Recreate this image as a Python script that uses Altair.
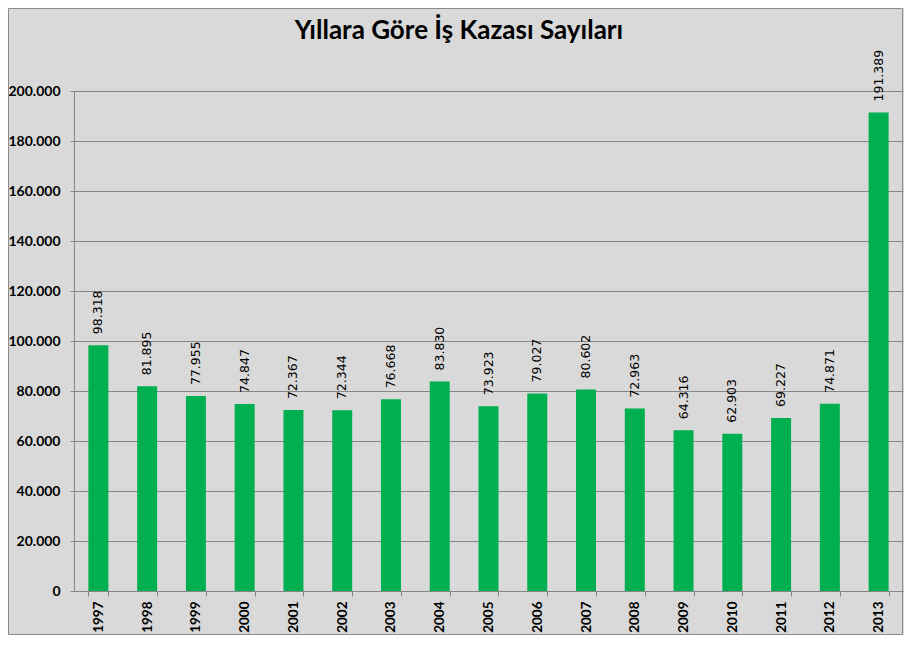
import altair as alt
import pandas as pd

years = ["1997", "1998", "1999", "2000", "2001", "2002", "2003", "2004", "2005",
         "2006", "2007", "2008", "2009", "2010", "2011", "2012", "2013"]
accidents = [98318, 81895, 77955, 74847, 72367, 72344, 76668, 83830, 73923,
             79027, 80602, 72963, 64316, 62903, 69227, 74871, 191389]
y_ticks = [0, 20000, 40000, 60000, 80000, 100000, 120000, 140000, 160000, 180000, 200000]
title_text = "Yıllara Göre İş Kazası Sayıları"

df = pd.DataFrame({
    "year": years,
    "value": accidents,
    "label": [f"{v:,}".replace(",", ".") for v in accidents],
})

FONT = "Lato"

x_enc = alt.X("year:N", sort=years, title=None,
              scale=alt.Scale(paddingInner=0.59, paddingOuter=0.295),
              axis=alt.Axis(labelAngle=-90, labelAlign="right", labelBaseline="middle",
                            labelFontWeight="bold", labelFontSize=13.5, labelColor="#000000",
                            labelFont=FONT, labelPadding=5, tickBand="extent",
                            tickSize=5, tickColor="#868686", domainColor="#868686",
                            grid=False))
y_enc = alt.Y("value:Q", title=None,
              scale=alt.Scale(domain=[0, 200000], nice=False),
              axis=alt.Axis(values=y_ticks,
                            labelExpr="datum.value == 0 ? '0' : replace(format(datum.value, ','), ',', '.')",
                            labelFontWeight="bold", labelFontSize=14, labelColor="#000000",
                            labelFont=FONT, labelPadding=10, tickSize=4,
                            tickColor="#868686", domainColor="#868686",
                            grid=True, gridColor="#868686", gridWidth=1))

bars = alt.Chart(df).mark_bar(color="#00b050").encode(x=x_enc, y=y_enc)

labels = alt.Chart(df).mark_text(angle=270, align="left", baseline="middle", dx=11,
                                 fontSize=12.5, font="DejaVu Sans", color="#000000").encode(
    x=alt.X("year:N", sort=years), y="value:Q", text="label:N")

title_df = pd.DataFrame({"t": [title_text]})
title = alt.Chart(title_df).mark_text(
    fontSize=26, font=FONT, fontWeight="bold", color="#000000",
    align="center", baseline="alphabetic").encode(
    x=alt.value(385), y=alt.value(-52), text="t:N")

border = alt.Chart(pd.DataFrame({"a": [0]})).mark_rect(
    fill="transparent", stroke="#8c8c8c", strokeWidth=1).encode(
    x=alt.value(-65.5), x2=alt.value(828.5), y=alt.value(-82.5), y2=alt.value(543.5))

chart = alt.layer(bars, labels, title, border).properties(
    width=829, height=500,
    autosize=alt.AutoSizeParams(type="none"),
    padding={"left": 66, "top": 83, "right": 1, "bottom": 44},
).configure(background="#d9d9d9").configure_view(strokeWidth=0)

chart.save("out.html", embed_options={"renderer": "svg", "actions": False})
